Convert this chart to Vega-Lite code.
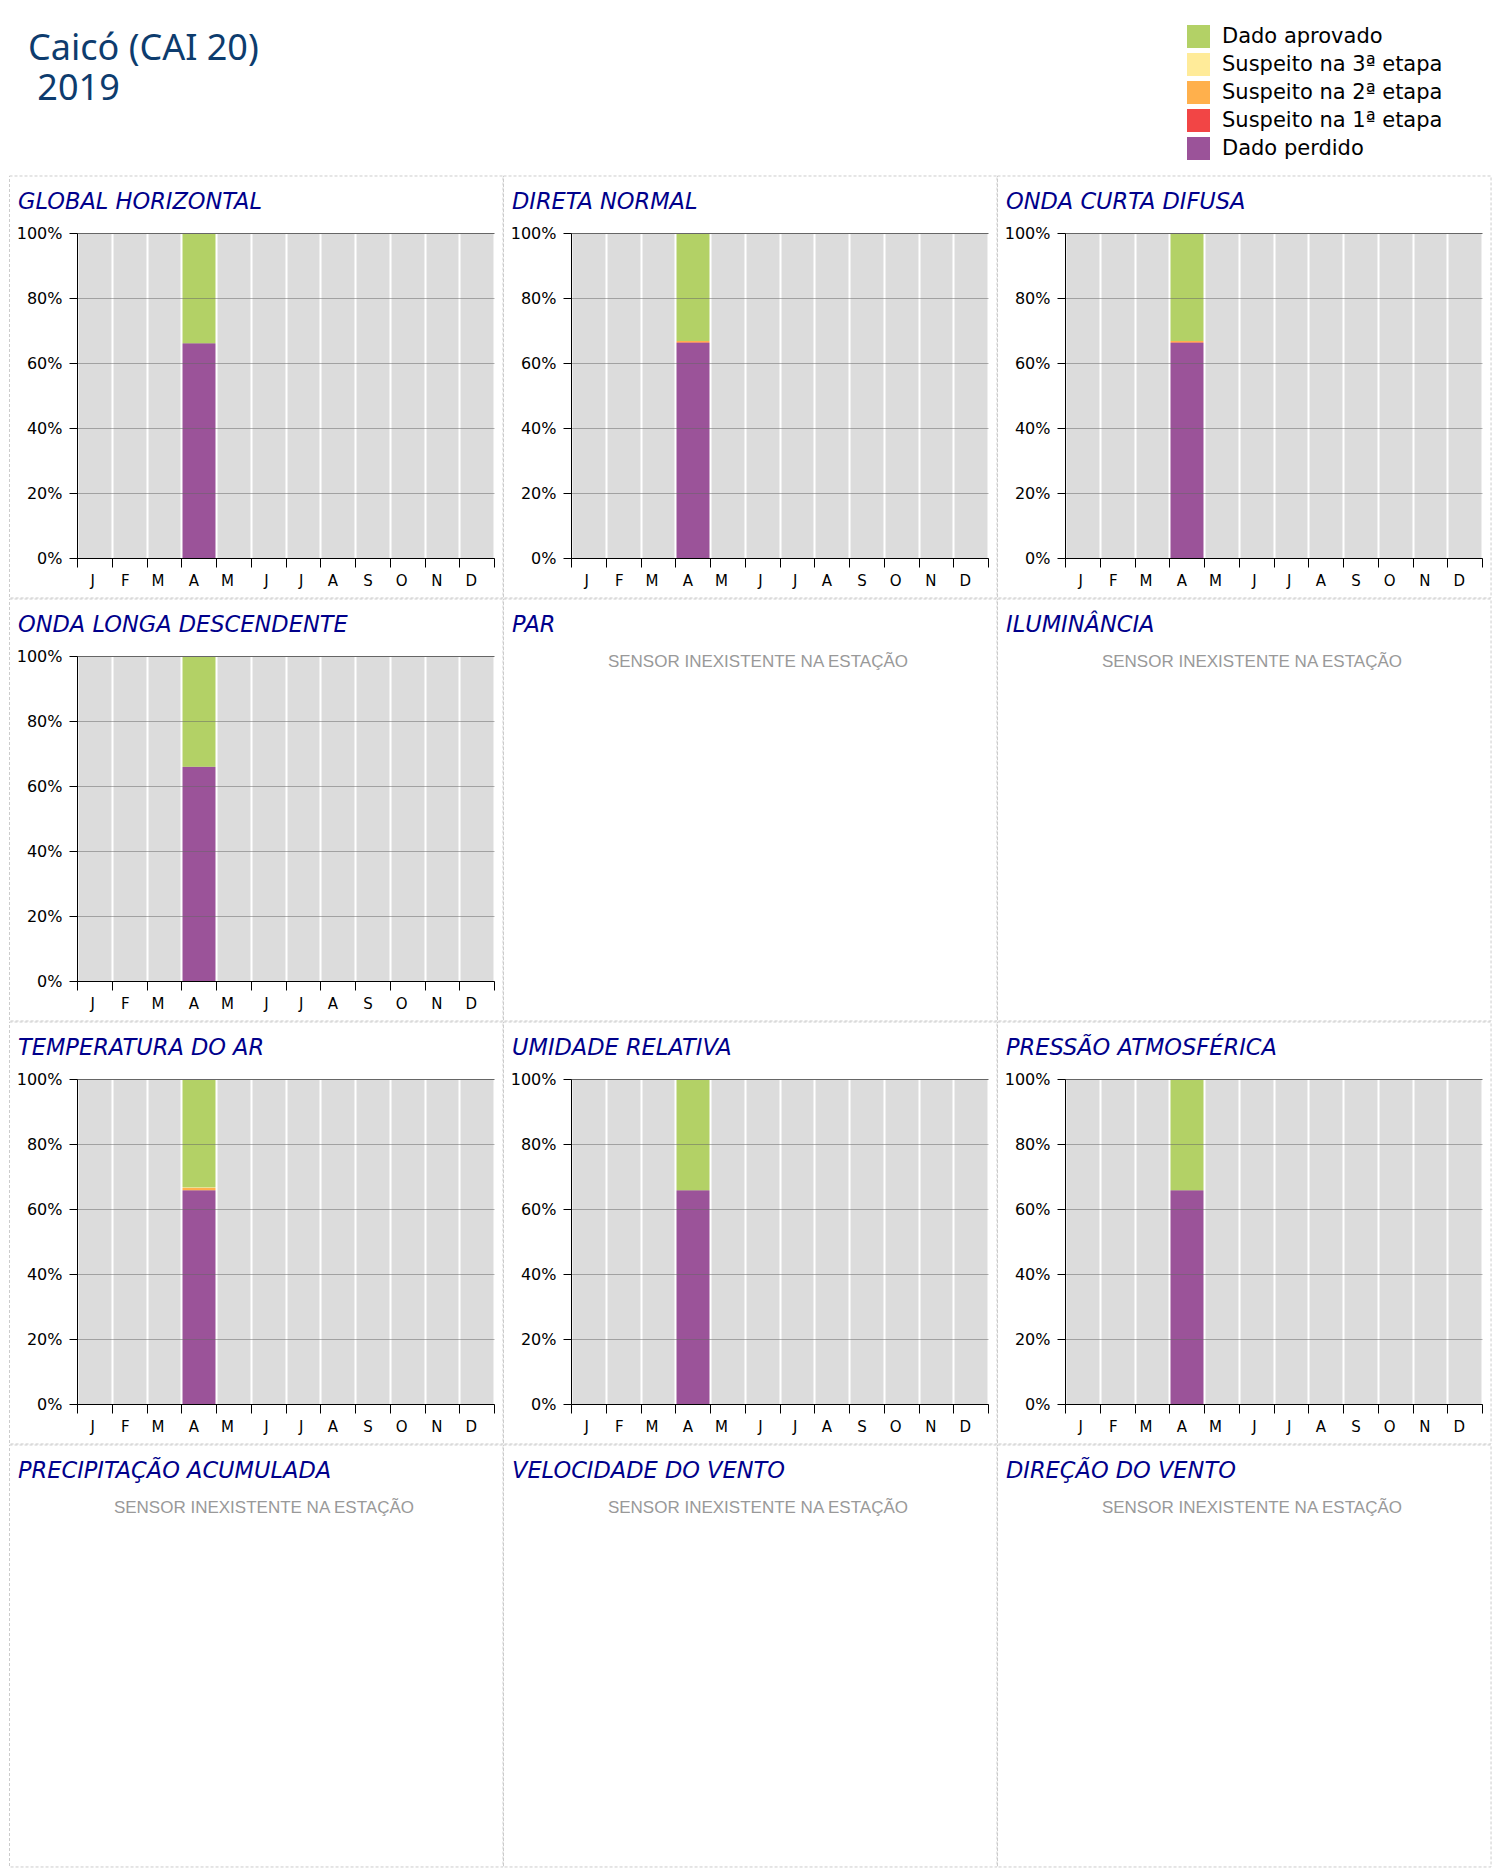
{
  "$schema": "https://vega.github.io/schema/vega-lite/v6.json",
  "background": "white",
  "padding": {"left": 9, "top": 25, "right": 10, "bottom": 10},
  "title": {"text": ["Caicó (CAI 20)", "\u200b\u00a02019"], "font": "Noto Sans", "fontSize": 36, "fontStyle": "normal", "fontWeight": "normal", "color": "#0d3c6e", "anchor": "start", "frame": "group", "dx": -49, "baseline": "top", "lineHeight": 40, "offset": -83},
  "datasets": {
    "q": [
      {"painel": "GLOBAL HORIZONTAL", "mes": "Abr", "status": "Dado perdido", "k": 1, "valor": 0.661},
      {"painel": "GLOBAL HORIZONTAL", "mes": "Abr", "status": "Dado aprovado", "k": 5, "valor": 0.339},
      {"painel": "DIRETA NORMAL", "mes": "Abr", "status": "Dado perdido", "k": 1, "valor": 0.662},
      {"painel": "DIRETA NORMAL", "mes": "Abr", "status": "Suspeito na 1ª etapa", "k": 2, "valor": 0.002},
      {"painel": "DIRETA NORMAL", "mes": "Abr", "status": "Suspeito na 2ª etapa", "k": 3, "valor": 0.004},
      {"painel": "DIRETA NORMAL", "mes": "Abr", "status": "Dado aprovado", "k": 5, "valor": 0.332},
      {"painel": "ONDA CURTA DIFUSA", "mes": "Abr", "status": "Dado perdido", "k": 1, "valor": 0.662},
      {"painel": "ONDA CURTA DIFUSA", "mes": "Abr", "status": "Suspeito na 1ª etapa", "k": 2, "valor": 0.002},
      {"painel": "ONDA CURTA DIFUSA", "mes": "Abr", "status": "Suspeito na 2ª etapa", "k": 3, "valor": 0.004},
      {"painel": "ONDA CURTA DIFUSA", "mes": "Abr", "status": "Dado aprovado", "k": 5, "valor": 0.332},
      {"painel": "ONDA LONGA DESCENDENTE", "mes": "Abr", "status": "Dado perdido", "k": 1, "valor": 0.659},
      {"painel": "ONDA LONGA DESCENDENTE", "mes": "Abr", "status": "Dado aprovado", "k": 5, "valor": 0.341},
      {"painel": "TEMPERATURA DO AR", "mes": "Abr", "status": "Dado perdido", "k": 1, "valor": 0.658},
      {"painel": "TEMPERATURA DO AR", "mes": "Abr", "status": "Suspeito na 2ª etapa", "k": 3, "valor": 0.007},
      {"painel": "TEMPERATURA DO AR", "mes": "Abr", "status": "Suspeito na 3ª etapa", "k": 4, "valor": 0.002},
      {"painel": "TEMPERATURA DO AR", "mes": "Abr", "status": "Dado aprovado", "k": 5, "valor": 0.333},
      {"painel": "UMIDADE RELATIVA", "mes": "Abr", "status": "Dado perdido", "k": 1, "valor": 0.658},
      {"painel": "UMIDADE RELATIVA", "mes": "Abr", "status": "Dado aprovado", "k": 5, "valor": 0.342},
      {"painel": "PRESSÃO ATMOSFÉRICA", "mes": "Abr", "status": "Dado perdido", "k": 1, "valor": 0.658},
      {"painel": "PRESSÃO ATMOSFÉRICA", "mes": "Abr", "status": "Dado aprovado", "k": 5, "valor": 0.342}
    ],
    "borda": [{"b": 1}],
    "aviso": [{"msg": "SENSOR INEXISTENTE NA ESTAÇÃO"}]
  },
  "columns": 3,
  "spacing": {"row": 98, "column": 77},
  "bounds": "flush",
  "resolve": {"scale": {"color": "shared"}, "legend": {"color": "shared"}},
  "concat": [
    {"width": 417, "height": 325, "title": "GLOBAL HORIZONTAL", "view": {"fill": "#dcdcdc", "stroke": null},
     "layer": [
      {"data": {"name": "borda"}, "mark": {"type": "rect", "fill": "white", "fillOpacity": 0, "stroke": "#cccccc", "strokeWidth": 1, "strokeDash": [3, 2], "clip": false},
       "encoding": {"x": {"datum": "Jan", "type": "ordinal", "bandPosition": -1.9424, "scale": {"type": "band", "domain": ["Jan","Fev","Mar","Abr","Mai","Jun","Jul","Ago","Set","Out","Nov","Dez"], "paddingInner": 0, "paddingOuter": 0}}, "x2": {"datum": "Dez", "bandPosition": 1.26}, "y": {"datum": 1.1754, "type": "quantitative", "scale": {"domain": [0, 1], "nice": false}}, "y2": {"datum": -0.123}}},
      {"data": {"name": "q"}, "transform": [{"filter": {"field": "painel", "equal": "GLOBAL HORIZONTAL"}}], "mark": {"type": "bar"},
       "encoding": {
        "x": {"field": "mes", "type": "ordinal", "scale": {"type": "band", "domain": ["Jan","Fev","Mar","Abr","Mai","Jun","Jul","Ago","Set","Out","Nov","Dez"], "paddingInner": 0, "paddingOuter": 0}, "axis": {"tickBand": "extent", "labelExpr": "substring(datum.label,0,1)", "labelAngle": 0, "grid": true, "gridColor": "#ffffff", "gridWidth": 2, "gridOpacity": 1, "domainColor": "#000000", "tickColor": "#000000", "tickSize": 9, "labelPadding": 13, "labelFont": "DejaVu Sans", "labelFontSize": 15, "labelColor": "#000000", "title": null, "zindex": 1}},
        "y": {"field": "valor", "type": "quantitative", "stack": "zero", "scale": {"domain": [0, 1], "nice": false}, "axis": {"values": [0, 0.2, 0.4, 0.6, 0.8, 1], "format": ".0%", "grid": true, "gridColor": "#666666", "gridOpacity": {"condition": {"test": "datum.value >= 1", "value": 1}, "value": 0.5}, "domainColor": "#000000", "tickColor": "#000000", "tickSize": 8, "labelPadding": 7, "labelFont": "DejaVu Sans", "labelFontSize": 16, "labelColor": "#000000", "title": null, "zindex": 1}},
        "color": {"field": "status", "type": "nominal", "scale": {"domain": ["Dado aprovado", "Suspeito na 3ª etapa", "Suspeito na 2ª etapa", "Suspeito na 1ª etapa", "Dado perdido"], "range": ["#b3d166", "#ffeb99", "#ffb04c", "#f24545", "#9b5399"]}, "legend": {"title": null, "orient": "none", "legendX": 1110, "legendY": -208, "symbolType": "square", "symbolSize": 529, "symbolStrokeWidth": 0, "symbolOpacity": 1, "labelFont": "DejaVu Sans", "labelFontSize": 21, "labelColor": "#000000", "rowPadding": 5, "labelOffset": 12, "padding": 0, "labelLimit": 500}},
        "order": {"field": "k", "type": "quantitative"}
       }}
     ]},
    {"width": 417, "height": 325, "title": "DIRETA NORMAL", "view": {"fill": "#dcdcdc", "stroke": null},
     "layer": [
      {"data": {"name": "borda"}, "mark": {"type": "rect", "fill": "white", "fillOpacity": 0, "stroke": "#cccccc", "strokeWidth": 1, "strokeDash": [3, 2], "clip": false},
       "encoding": {"x": {"datum": "Jan", "type": "ordinal", "bandPosition": -1.9424, "scale": {"type": "band", "domain": ["Jan","Fev","Mar","Abr","Mai","Jun","Jul","Ago","Set","Out","Nov","Dez"], "paddingInner": 0, "paddingOuter": 0}}, "x2": {"datum": "Dez", "bandPosition": 1.26}, "y": {"datum": 1.1754, "type": "quantitative", "scale": {"domain": [0, 1], "nice": false}}, "y2": {"datum": -0.123}}},
      {"data": {"name": "q"}, "transform": [{"filter": {"field": "painel", "equal": "DIRETA NORMAL"}}], "mark": {"type": "bar"},
       "encoding": {
        "x": {"field": "mes", "type": "ordinal", "scale": {"type": "band", "domain": ["Jan","Fev","Mar","Abr","Mai","Jun","Jul","Ago","Set","Out","Nov","Dez"], "paddingInner": 0, "paddingOuter": 0}, "axis": {"tickBand": "extent", "labelExpr": "substring(datum.label,0,1)", "labelAngle": 0, "grid": true, "gridColor": "#ffffff", "gridWidth": 2, "gridOpacity": 1, "domainColor": "#000000", "tickColor": "#000000", "tickSize": 9, "labelPadding": 13, "labelFont": "DejaVu Sans", "labelFontSize": 15, "labelColor": "#000000", "title": null, "zindex": 1}},
        "y": {"field": "valor", "type": "quantitative", "stack": "zero", "scale": {"domain": [0, 1], "nice": false}, "axis": {"values": [0, 0.2, 0.4, 0.6, 0.8, 1], "format": ".0%", "grid": true, "gridColor": "#666666", "gridOpacity": {"condition": {"test": "datum.value >= 1", "value": 1}, "value": 0.5}, "domainColor": "#000000", "tickColor": "#000000", "tickSize": 8, "labelPadding": 7, "labelFont": "DejaVu Sans", "labelFontSize": 16, "labelColor": "#000000", "title": null, "zindex": 1}},
        "color": {"field": "status", "type": "nominal", "scale": {"domain": ["Dado aprovado", "Suspeito na 3ª etapa", "Suspeito na 2ª etapa", "Suspeito na 1ª etapa", "Dado perdido"], "range": ["#b3d166", "#ffeb99", "#ffb04c", "#f24545", "#9b5399"]}, "legend": {"title": null, "orient": "none", "legendX": 1110, "legendY": -208, "symbolType": "square", "symbolSize": 529, "symbolStrokeWidth": 0, "symbolOpacity": 1, "labelFont": "DejaVu Sans", "labelFontSize": 21, "labelColor": "#000000", "rowPadding": 5, "labelOffset": 12, "padding": 0, "labelLimit": 500}},
        "order": {"field": "k", "type": "quantitative"}
       }}
     ]},
    {"width": 417, "height": 325, "title": "ONDA CURTA DIFUSA", "view": {"fill": "#dcdcdc", "stroke": null},
     "layer": [
      {"data": {"name": "borda"}, "mark": {"type": "rect", "fill": "white", "fillOpacity": 0, "stroke": "#cccccc", "strokeWidth": 1, "strokeDash": [3, 2], "clip": false},
       "encoding": {"x": {"datum": "Jan", "type": "ordinal", "bandPosition": -1.9424, "scale": {"type": "band", "domain": ["Jan","Fev","Mar","Abr","Mai","Jun","Jul","Ago","Set","Out","Nov","Dez"], "paddingInner": 0, "paddingOuter": 0}}, "x2": {"datum": "Dez", "bandPosition": 1.26}, "y": {"datum": 1.1754, "type": "quantitative", "scale": {"domain": [0, 1], "nice": false}}, "y2": {"datum": -0.123}}},
      {"data": {"name": "q"}, "transform": [{"filter": {"field": "painel", "equal": "ONDA CURTA DIFUSA"}}], "mark": {"type": "bar"},
       "encoding": {
        "x": {"field": "mes", "type": "ordinal", "scale": {"type": "band", "domain": ["Jan","Fev","Mar","Abr","Mai","Jun","Jul","Ago","Set","Out","Nov","Dez"], "paddingInner": 0, "paddingOuter": 0}, "axis": {"tickBand": "extent", "labelExpr": "substring(datum.label,0,1)", "labelAngle": 0, "grid": true, "gridColor": "#ffffff", "gridWidth": 2, "gridOpacity": 1, "domainColor": "#000000", "tickColor": "#000000", "tickSize": 9, "labelPadding": 13, "labelFont": "DejaVu Sans", "labelFontSize": 15, "labelColor": "#000000", "title": null, "zindex": 1}},
        "y": {"field": "valor", "type": "quantitative", "stack": "zero", "scale": {"domain": [0, 1], "nice": false}, "axis": {"values": [0, 0.2, 0.4, 0.6, 0.8, 1], "format": ".0%", "grid": true, "gridColor": "#666666", "gridOpacity": {"condition": {"test": "datum.value >= 1", "value": 1}, "value": 0.5}, "domainColor": "#000000", "tickColor": "#000000", "tickSize": 8, "labelPadding": 7, "labelFont": "DejaVu Sans", "labelFontSize": 16, "labelColor": "#000000", "title": null, "zindex": 1}},
        "color": {"field": "status", "type": "nominal", "scale": {"domain": ["Dado aprovado", "Suspeito na 3ª etapa", "Suspeito na 2ª etapa", "Suspeito na 1ª etapa", "Dado perdido"], "range": ["#b3d166", "#ffeb99", "#ffb04c", "#f24545", "#9b5399"]}, "legend": {"title": null, "orient": "none", "legendX": 1110, "legendY": -208, "symbolType": "square", "symbolSize": 529, "symbolStrokeWidth": 0, "symbolOpacity": 1, "labelFont": "DejaVu Sans", "labelFontSize": 21, "labelColor": "#000000", "rowPadding": 5, "labelOffset": 12, "padding": 0, "labelLimit": 500}},
        "order": {"field": "k", "type": "quantitative"}
       }}
     ]},
    {"width": 417, "height": 325, "title": "ONDA LONGA DESCENDENTE", "view": {"fill": "#dcdcdc", "stroke": null},
     "layer": [
      {"data": {"name": "borda"}, "mark": {"type": "rect", "fill": "white", "fillOpacity": 0, "stroke": "#cccccc", "strokeWidth": 1, "strokeDash": [3, 2], "clip": false},
       "encoding": {"x": {"datum": "Jan", "type": "ordinal", "bandPosition": -1.9424, "scale": {"type": "band", "domain": ["Jan","Fev","Mar","Abr","Mai","Jun","Jul","Ago","Set","Out","Nov","Dez"], "paddingInner": 0, "paddingOuter": 0}}, "x2": {"datum": "Dez", "bandPosition": 1.26}, "y": {"datum": 1.1754, "type": "quantitative", "scale": {"domain": [0, 1], "nice": false}}, "y2": {"datum": -0.123}}},
      {"data": {"name": "q"}, "transform": [{"filter": {"field": "painel", "equal": "ONDA LONGA DESCENDENTE"}}], "mark": {"type": "bar"},
       "encoding": {
        "x": {"field": "mes", "type": "ordinal", "scale": {"type": "band", "domain": ["Jan","Fev","Mar","Abr","Mai","Jun","Jul","Ago","Set","Out","Nov","Dez"], "paddingInner": 0, "paddingOuter": 0}, "axis": {"tickBand": "extent", "labelExpr": "substring(datum.label,0,1)", "labelAngle": 0, "grid": true, "gridColor": "#ffffff", "gridWidth": 2, "gridOpacity": 1, "domainColor": "#000000", "tickColor": "#000000", "tickSize": 9, "labelPadding": 13, "labelFont": "DejaVu Sans", "labelFontSize": 15, "labelColor": "#000000", "title": null, "zindex": 1}},
        "y": {"field": "valor", "type": "quantitative", "stack": "zero", "scale": {"domain": [0, 1], "nice": false}, "axis": {"values": [0, 0.2, 0.4, 0.6, 0.8, 1], "format": ".0%", "grid": true, "gridColor": "#666666", "gridOpacity": {"condition": {"test": "datum.value >= 1", "value": 1}, "value": 0.5}, "domainColor": "#000000", "tickColor": "#000000", "tickSize": 8, "labelPadding": 7, "labelFont": "DejaVu Sans", "labelFontSize": 16, "labelColor": "#000000", "title": null, "zindex": 1}},
        "color": {"field": "status", "type": "nominal", "scale": {"domain": ["Dado aprovado", "Suspeito na 3ª etapa", "Suspeito na 2ª etapa", "Suspeito na 1ª etapa", "Dado perdido"], "range": ["#b3d166", "#ffeb99", "#ffb04c", "#f24545", "#9b5399"]}, "legend": {"title": null, "orient": "none", "legendX": 1110, "legendY": -208, "symbolType": "square", "symbolSize": 529, "symbolStrokeWidth": 0, "symbolOpacity": 1, "labelFont": "DejaVu Sans", "labelFontSize": 21, "labelColor": "#000000", "rowPadding": 5, "labelOffset": 12, "padding": 0, "labelLimit": 500}},
        "order": {"field": "k", "type": "quantitative"}
       }}
     ]},
    {"width": 417, "height": 325, "title": "PAR",
     "layer": [
      {"data": {"name": "borda"}, "mark": {"type": "rect", "fill": "white", "fillOpacity": 0, "stroke": "#cccccc", "strokeWidth": 1, "strokeDash": [3, 2], "clip": false},
       "encoding": {"x": {"datum": "Jan", "type": "ordinal", "bandPosition": -1.9424, "scale": {"type": "band", "domain": ["Jan","Fev","Mar","Abr","Mai","Jun","Jul","Ago","Set","Out","Nov","Dez"], "paddingInner": 0, "paddingOuter": 0}, "axis": null}, "x2": {"datum": "Dez", "bandPosition": 1.26}, "y": {"datum": 1.1754, "type": "quantitative", "scale": {"domain": [0, 1], "nice": false}, "axis": null}, "y2": {"datum": -0.123}}},
      {"data": {"name": "aviso"}, "mark": {"type": "text", "font": "Liberation Sans", "fontSize": 17, "color": "#999999", "align": "center", "baseline": "middle"},
       "encoding": {"x": {"datum": "Jun", "type": "ordinal", "bandPosition": 0.38, "scale": {"type": "band", "domain": ["Jan","Fev","Mar","Abr","Mai","Jun","Jul","Ago","Set","Out","Nov","Dez"], "paddingInner": 0, "paddingOuter": 0}, "axis": null}, "y": {"datum": 0.9825, "type": "quantitative", "scale": {"domain": [0, 1], "nice": false}, "axis": null}, "text": {"field": "msg"}}}
     ]},
    {"width": 417, "height": 325, "title": "ILUMINÂNCIA",
     "layer": [
      {"data": {"name": "borda"}, "mark": {"type": "rect", "fill": "white", "fillOpacity": 0, "stroke": "#cccccc", "strokeWidth": 1, "strokeDash": [3, 2], "clip": false},
       "encoding": {"x": {"datum": "Jan", "type": "ordinal", "bandPosition": -1.9424, "scale": {"type": "band", "domain": ["Jan","Fev","Mar","Abr","Mai","Jun","Jul","Ago","Set","Out","Nov","Dez"], "paddingInner": 0, "paddingOuter": 0}, "axis": null}, "x2": {"datum": "Dez", "bandPosition": 1.26}, "y": {"datum": 1.1754, "type": "quantitative", "scale": {"domain": [0, 1], "nice": false}, "axis": null}, "y2": {"datum": -0.123}}},
      {"data": {"name": "aviso"}, "mark": {"type": "text", "font": "Liberation Sans", "fontSize": 17, "color": "#999999", "align": "center", "baseline": "middle"},
       "encoding": {"x": {"datum": "Jun", "type": "ordinal", "bandPosition": 0.38, "scale": {"type": "band", "domain": ["Jan","Fev","Mar","Abr","Mai","Jun","Jul","Ago","Set","Out","Nov","Dez"], "paddingInner": 0, "paddingOuter": 0}, "axis": null}, "y": {"datum": 0.9825, "type": "quantitative", "scale": {"domain": [0, 1], "nice": false}, "axis": null}, "text": {"field": "msg"}}}
     ]},
    {"width": 417, "height": 325, "title": "TEMPERATURA DO AR", "view": {"fill": "#dcdcdc", "stroke": null},
     "layer": [
      {"data": {"name": "borda"}, "mark": {"type": "rect", "fill": "white", "fillOpacity": 0, "stroke": "#cccccc", "strokeWidth": 1, "strokeDash": [3, 2], "clip": false},
       "encoding": {"x": {"datum": "Jan", "type": "ordinal", "bandPosition": -1.9424, "scale": {"type": "band", "domain": ["Jan","Fev","Mar","Abr","Mai","Jun","Jul","Ago","Set","Out","Nov","Dez"], "paddingInner": 0, "paddingOuter": 0}}, "x2": {"datum": "Dez", "bandPosition": 1.26}, "y": {"datum": 1.1754, "type": "quantitative", "scale": {"domain": [0, 1], "nice": false}}, "y2": {"datum": -0.123}}},
      {"data": {"name": "q"}, "transform": [{"filter": {"field": "painel", "equal": "TEMPERATURA DO AR"}}], "mark": {"type": "bar"},
       "encoding": {
        "x": {"field": "mes", "type": "ordinal", "scale": {"type": "band", "domain": ["Jan","Fev","Mar","Abr","Mai","Jun","Jul","Ago","Set","Out","Nov","Dez"], "paddingInner": 0, "paddingOuter": 0}, "axis": {"tickBand": "extent", "labelExpr": "substring(datum.label,0,1)", "labelAngle": 0, "grid": true, "gridColor": "#ffffff", "gridWidth": 2, "gridOpacity": 1, "domainColor": "#000000", "tickColor": "#000000", "tickSize": 9, "labelPadding": 13, "labelFont": "DejaVu Sans", "labelFontSize": 15, "labelColor": "#000000", "title": null, "zindex": 1}},
        "y": {"field": "valor", "type": "quantitative", "stack": "zero", "scale": {"domain": [0, 1], "nice": false}, "axis": {"values": [0, 0.2, 0.4, 0.6, 0.8, 1], "format": ".0%", "grid": true, "gridColor": "#666666", "gridOpacity": {"condition": {"test": "datum.value >= 1", "value": 1}, "value": 0.5}, "domainColor": "#000000", "tickColor": "#000000", "tickSize": 8, "labelPadding": 7, "labelFont": "DejaVu Sans", "labelFontSize": 16, "labelColor": "#000000", "title": null, "zindex": 1}},
        "color": {"field": "status", "type": "nominal", "scale": {"domain": ["Dado aprovado", "Suspeito na 3ª etapa", "Suspeito na 2ª etapa", "Suspeito na 1ª etapa", "Dado perdido"], "range": ["#b3d166", "#ffeb99", "#ffb04c", "#f24545", "#9b5399"]}, "legend": {"title": null, "orient": "none", "legendX": 1110, "legendY": -208, "symbolType": "square", "symbolSize": 529, "symbolStrokeWidth": 0, "symbolOpacity": 1, "labelFont": "DejaVu Sans", "labelFontSize": 21, "labelColor": "#000000", "rowPadding": 5, "labelOffset": 12, "padding": 0, "labelLimit": 500}},
        "order": {"field": "k", "type": "quantitative"}
       }}
     ]},
    {"width": 417, "height": 325, "title": "UMIDADE RELATIVA", "view": {"fill": "#dcdcdc", "stroke": null},
     "layer": [
      {"data": {"name": "borda"}, "mark": {"type": "rect", "fill": "white", "fillOpacity": 0, "stroke": "#cccccc", "strokeWidth": 1, "strokeDash": [3, 2], "clip": false},
       "encoding": {"x": {"datum": "Jan", "type": "ordinal", "bandPosition": -1.9424, "scale": {"type": "band", "domain": ["Jan","Fev","Mar","Abr","Mai","Jun","Jul","Ago","Set","Out","Nov","Dez"], "paddingInner": 0, "paddingOuter": 0}}, "x2": {"datum": "Dez", "bandPosition": 1.26}, "y": {"datum": 1.1754, "type": "quantitative", "scale": {"domain": [0, 1], "nice": false}}, "y2": {"datum": -0.123}}},
      {"data": {"name": "q"}, "transform": [{"filter": {"field": "painel", "equal": "UMIDADE RELATIVA"}}], "mark": {"type": "bar"},
       "encoding": {
        "x": {"field": "mes", "type": "ordinal", "scale": {"type": "band", "domain": ["Jan","Fev","Mar","Abr","Mai","Jun","Jul","Ago","Set","Out","Nov","Dez"], "paddingInner": 0, "paddingOuter": 0}, "axis": {"tickBand": "extent", "labelExpr": "substring(datum.label,0,1)", "labelAngle": 0, "grid": true, "gridColor": "#ffffff", "gridWidth": 2, "gridOpacity": 1, "domainColor": "#000000", "tickColor": "#000000", "tickSize": 9, "labelPadding": 13, "labelFont": "DejaVu Sans", "labelFontSize": 15, "labelColor": "#000000", "title": null, "zindex": 1}},
        "y": {"field": "valor", "type": "quantitative", "stack": "zero", "scale": {"domain": [0, 1], "nice": false}, "axis": {"values": [0, 0.2, 0.4, 0.6, 0.8, 1], "format": ".0%", "grid": true, "gridColor": "#666666", "gridOpacity": {"condition": {"test": "datum.value >= 1", "value": 1}, "value": 0.5}, "domainColor": "#000000", "tickColor": "#000000", "tickSize": 8, "labelPadding": 7, "labelFont": "DejaVu Sans", "labelFontSize": 16, "labelColor": "#000000", "title": null, "zindex": 1}},
        "color": {"field": "status", "type": "nominal", "scale": {"domain": ["Dado aprovado", "Suspeito na 3ª etapa", "Suspeito na 2ª etapa", "Suspeito na 1ª etapa", "Dado perdido"], "range": ["#b3d166", "#ffeb99", "#ffb04c", "#f24545", "#9b5399"]}, "legend": {"title": null, "orient": "none", "legendX": 1110, "legendY": -208, "symbolType": "square", "symbolSize": 529, "symbolStrokeWidth": 0, "symbolOpacity": 1, "labelFont": "DejaVu Sans", "labelFontSize": 21, "labelColor": "#000000", "rowPadding": 5, "labelOffset": 12, "padding": 0, "labelLimit": 500}},
        "order": {"field": "k", "type": "quantitative"}
       }}
     ]},
    {"width": 417, "height": 325, "title": "PRESSÃO ATMOSFÉRICA", "view": {"fill": "#dcdcdc", "stroke": null},
     "layer": [
      {"data": {"name": "borda"}, "mark": {"type": "rect", "fill": "white", "fillOpacity": 0, "stroke": "#cccccc", "strokeWidth": 1, "strokeDash": [3, 2], "clip": false},
       "encoding": {"x": {"datum": "Jan", "type": "ordinal", "bandPosition": -1.9424, "scale": {"type": "band", "domain": ["Jan","Fev","Mar","Abr","Mai","Jun","Jul","Ago","Set","Out","Nov","Dez"], "paddingInner": 0, "paddingOuter": 0}}, "x2": {"datum": "Dez", "bandPosition": 1.26}, "y": {"datum": 1.1754, "type": "quantitative", "scale": {"domain": [0, 1], "nice": false}}, "y2": {"datum": -0.123}}},
      {"data": {"name": "q"}, "transform": [{"filter": {"field": "painel", "equal": "PRESSÃO ATMOSFÉRICA"}}], "mark": {"type": "bar"},
       "encoding": {
        "x": {"field": "mes", "type": "ordinal", "scale": {"type": "band", "domain": ["Jan","Fev","Mar","Abr","Mai","Jun","Jul","Ago","Set","Out","Nov","Dez"], "paddingInner": 0, "paddingOuter": 0}, "axis": {"tickBand": "extent", "labelExpr": "substring(datum.label,0,1)", "labelAngle": 0, "grid": true, "gridColor": "#ffffff", "gridWidth": 2, "gridOpacity": 1, "domainColor": "#000000", "tickColor": "#000000", "tickSize": 9, "labelPadding": 13, "labelFont": "DejaVu Sans", "labelFontSize": 15, "labelColor": "#000000", "title": null, "zindex": 1}},
        "y": {"field": "valor", "type": "quantitative", "stack": "zero", "scale": {"domain": [0, 1], "nice": false}, "axis": {"values": [0, 0.2, 0.4, 0.6, 0.8, 1], "format": ".0%", "grid": true, "gridColor": "#666666", "gridOpacity": {"condition": {"test": "datum.value >= 1", "value": 1}, "value": 0.5}, "domainColor": "#000000", "tickColor": "#000000", "tickSize": 8, "labelPadding": 7, "labelFont": "DejaVu Sans", "labelFontSize": 16, "labelColor": "#000000", "title": null, "zindex": 1}},
        "color": {"field": "status", "type": "nominal", "scale": {"domain": ["Dado aprovado", "Suspeito na 3ª etapa", "Suspeito na 2ª etapa", "Suspeito na 1ª etapa", "Dado perdido"], "range": ["#b3d166", "#ffeb99", "#ffb04c", "#f24545", "#9b5399"]}, "legend": {"title": null, "orient": "none", "legendX": 1110, "legendY": -208, "symbolType": "square", "symbolSize": 529, "symbolStrokeWidth": 0, "symbolOpacity": 1, "labelFont": "DejaVu Sans", "labelFontSize": 21, "labelColor": "#000000", "rowPadding": 5, "labelOffset": 12, "padding": 0, "labelLimit": 500}},
        "order": {"field": "k", "type": "quantitative"}
       }}
     ]},
    {"width": 417, "height": 325, "title": "PRECIPITAÇÃO ACUMULADA",
     "layer": [
      {"data": {"name": "borda"}, "mark": {"type": "rect", "fill": "white", "fillOpacity": 0, "stroke": "#cccccc", "strokeWidth": 1, "strokeDash": [3, 2], "clip": false},
       "encoding": {"x": {"datum": "Jan", "type": "ordinal", "bandPosition": -1.9424, "scale": {"type": "band", "domain": ["Jan","Fev","Mar","Abr","Mai","Jun","Jul","Ago","Set","Out","Nov","Dez"], "paddingInner": 0, "paddingOuter": 0}, "axis": null}, "x2": {"datum": "Dez", "bandPosition": 1.26}, "y": {"datum": 1.1754, "type": "quantitative", "scale": {"domain": [0, 1], "nice": false}, "axis": null}, "y2": {"datum": -0.123}}},
      {"data": {"name": "aviso"}, "mark": {"type": "text", "font": "Liberation Sans", "fontSize": 17, "color": "#999999", "align": "center", "baseline": "middle"},
       "encoding": {"x": {"datum": "Jun", "type": "ordinal", "bandPosition": 0.38, "scale": {"type": "band", "domain": ["Jan","Fev","Mar","Abr","Mai","Jun","Jul","Ago","Set","Out","Nov","Dez"], "paddingInner": 0, "paddingOuter": 0}, "axis": null}, "y": {"datum": 0.9825, "type": "quantitative", "scale": {"domain": [0, 1], "nice": false}, "axis": null}, "text": {"field": "msg"}}}
     ]},
    {"width": 417, "height": 325, "title": "VELOCIDADE DO VENTO",
     "layer": [
      {"data": {"name": "borda"}, "mark": {"type": "rect", "fill": "white", "fillOpacity": 0, "stroke": "#cccccc", "strokeWidth": 1, "strokeDash": [3, 2], "clip": false},
       "encoding": {"x": {"datum": "Jan", "type": "ordinal", "bandPosition": -1.9424, "scale": {"type": "band", "domain": ["Jan","Fev","Mar","Abr","Mai","Jun","Jul","Ago","Set","Out","Nov","Dez"], "paddingInner": 0, "paddingOuter": 0}, "axis": null}, "x2": {"datum": "Dez", "bandPosition": 1.26}, "y": {"datum": 1.1754, "type": "quantitative", "scale": {"domain": [0, 1], "nice": false}, "axis": null}, "y2": {"datum": -0.123}}},
      {"data": {"name": "aviso"}, "mark": {"type": "text", "font": "Liberation Sans", "fontSize": 17, "color": "#999999", "align": "center", "baseline": "middle"},
       "encoding": {"x": {"datum": "Jun", "type": "ordinal", "bandPosition": 0.38, "scale": {"type": "band", "domain": ["Jan","Fev","Mar","Abr","Mai","Jun","Jul","Ago","Set","Out","Nov","Dez"], "paddingInner": 0, "paddingOuter": 0}, "axis": null}, "y": {"datum": 0.9825, "type": "quantitative", "scale": {"domain": [0, 1], "nice": false}, "axis": null}, "text": {"field": "msg"}}}
     ]},
    {"width": 417, "height": 325, "title": "DIREÇÃO DO VENTO",
     "layer": [
      {"data": {"name": "borda"}, "mark": {"type": "rect", "fill": "white", "fillOpacity": 0, "stroke": "#cccccc", "strokeWidth": 1, "strokeDash": [3, 2], "clip": false},
       "encoding": {"x": {"datum": "Jan", "type": "ordinal", "bandPosition": -1.9424, "scale": {"type": "band", "domain": ["Jan","Fev","Mar","Abr","Mai","Jun","Jul","Ago","Set","Out","Nov","Dez"], "paddingInner": 0, "paddingOuter": 0}, "axis": null}, "x2": {"datum": "Dez", "bandPosition": 1.26}, "y": {"datum": 1.1754, "type": "quantitative", "scale": {"domain": [0, 1], "nice": false}, "axis": null}, "y2": {"datum": -0.123}}},
      {"data": {"name": "aviso"}, "mark": {"type": "text", "font": "Liberation Sans", "fontSize": 17, "color": "#999999", "align": "center", "baseline": "middle"},
       "encoding": {"x": {"datum": "Jun", "type": "ordinal", "bandPosition": 0.38, "scale": {"type": "band", "domain": ["Jan","Fev","Mar","Abr","Mai","Jun","Jul","Ago","Set","Out","Nov","Dez"], "paddingInner": 0, "paddingOuter": 0}, "axis": null}, "y": {"datum": 0.9825, "type": "quantitative", "scale": {"domain": [0, 1], "nice": false}, "axis": null}, "text": {"field": "msg"}}}
     ]}
  ],
  "config": {
    "view": {"stroke": null},
    "axis": {"title": null},
    "title": {"font": "DejaVu Sans", "fontSize": 22.5, "fontStyle": "italic", "fontWeight": "normal", "color": "#00008b", "anchor": "start", "frame": "group", "dx": -59, "offset": -38, "baseline": "alphabetic"}
  }
}
